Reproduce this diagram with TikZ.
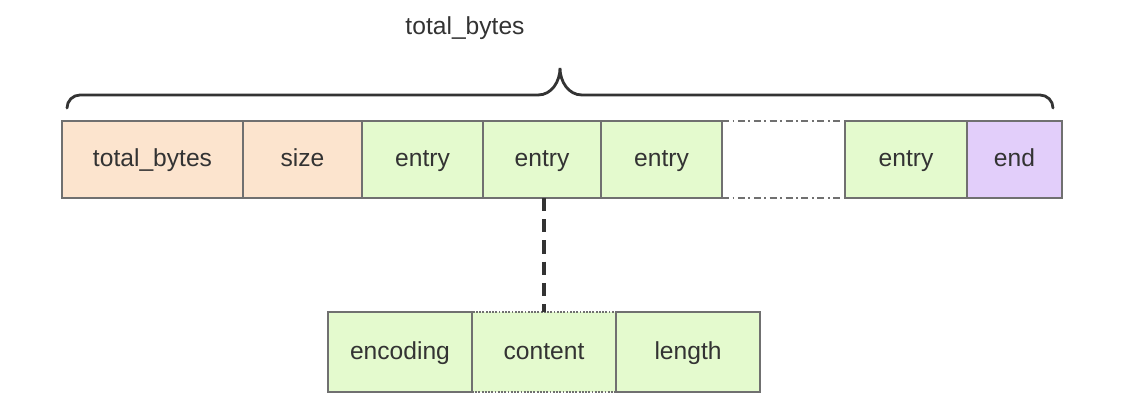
\documentclass[tikz,border=0pt]{standalone}
\usepackage{fontspec}
\setmainfont{Liberation Sans}
\usetikzlibrary{positioning}
\definecolor{peach}{RGB}{252,228,206}
\definecolor{lightgreen}{RGB}{228,250,206}
\definecolor{lilac}{RGB}{226,206,250}
\definecolor{edgegray}{RGB}{112,112,112}
\definecolor{inkgray}{RGB}{51,51,51}

\begin{document}
\begin{tikzpicture}[x=0.025cm, y=-0.025cm,
    font=\fontsize{17.5}{20}\selectfont, text=inkgray,
    field/.style={draw=edgegray, line width=1.3pt, rectangle, minimum height=1.925cm,
        inner sep=0pt, outer sep=0pt, text height=2.2ex, text depth=0.2ex},
    subfield/.style={field, minimum height=2cm, minimum width=3.6cm, fill=lightgreen}]
    \useasboundingbox (0,0) rectangle (1137,416);

    % Header fields
    \node[field, fill=peach, minimum width=4.525cm] (tb) at (152.5,159.5) {total\_bytes};
    \node[field, fill=peach, minimum width=2.975cm] (size) at (302.5,159.5) {size};

    % Entries
    \node[field, fill=lightgreen, minimum width=3.025cm] (e1) at (422.5,159.5) {entry};
    \node[field, fill=lightgreen, minimum width=2.95cm] (e2) at (542,159.5) {entry};
    \node[field, fill=lightgreen, minimum width=3.025cm] (e3) at (661.5,159.5) {entry};
    \node[rectangle, minimum width=3.075cm, minimum height=1.925cm, inner sep=0pt, outer sep=0pt] (gap) at (783.5,159.5) {};
    \node[field, fill=lightgreen, minimum width=3.05cm] (e4) at (906,159.5) {entry};

    % End
    \node[field, fill=lilac, minimum width=2.375cm] (end) at (1014.5,159.5) {end};

    % Gap
    \draw[edgegray, line width=1.3pt, dash pattern=on 5pt off 2.5pt on 1.3pt off 2.5pt]
        (gap.north west) -- (gap.north east);
    \draw[edgegray, line width=1.3pt, dash pattern=on 5pt off 2.5pt on 1.3pt off 2.5pt]
        (gap.south west) -- (gap.south east);
    \draw[edgegray, line width=1.3pt, densely dotted] (gap.north west) -- (gap.south west);

    % Entry layout
    \node[subfield, densely dotted] (cont) at (544,352) {content};
    \node[subfield, left=0pt of cont] (enc) {encoding};
    \node[subfield, right=0pt of cont] (len) {length};

    \draw[inkgray, line width=2.6pt, dash pattern=on 0.33cm off 0.2cm] (cont.north |- e2.south) -- (cont.north);

    % Brace
    \coordinate (bl) at (67,108);
    \coordinate (br) at (1053,108);
    \coordinate (tip) at (560,68);
    \draw[inkgray, line width=2pt, line cap=round]
        (bl) to[out=90, in=180] (80,95) -- (538,95)
        to[out=0, in=-90] (tip) to[out=-90, in=180] (582,95)
        -- (1040,95) to[out=0, in=90] (br);
    \node (total) at (465,28) {total\_bytes};
\end{tikzpicture}
\end{document}
